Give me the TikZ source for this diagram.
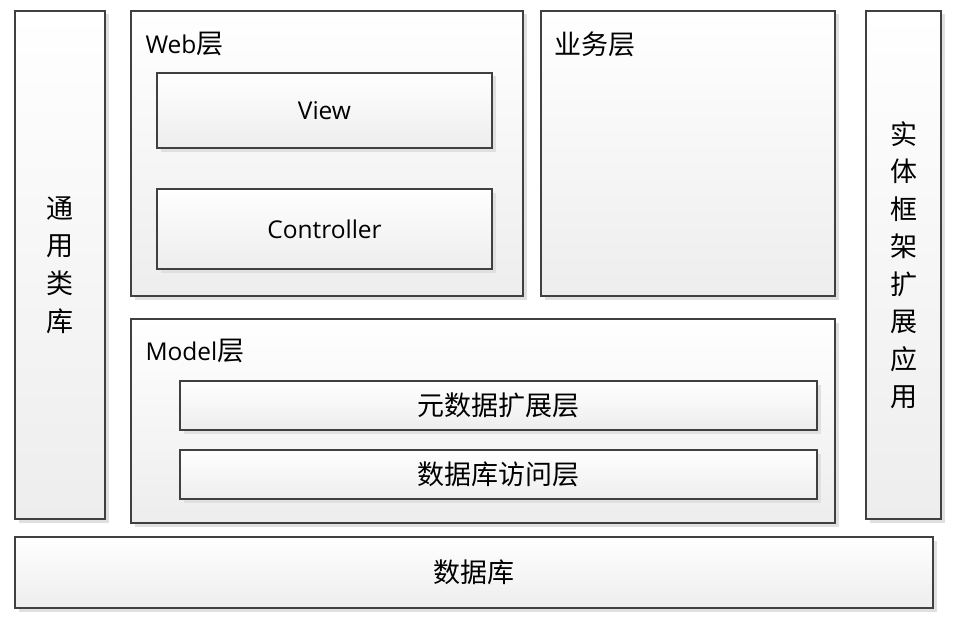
\documentclass[tikz,border=0pt]{standalone}
\usepackage{fontspec}
\setmainfont{Open Sans}
\newfontfamily\cjk{Noto Sans CJK SC}
\usetikzlibrary{shadows}

\tikzset{
  layerbox/.style={draw=black!75, line width=1.4pt, inner sep=0pt,
    top color=white, bottom color=black!7,
    drop shadow={shadow xshift=3.5pt, shadow yshift=-3.5pt, fill=black!12, opacity=1}},
  boxtext/.style={font=\fontsize{24.5}{27}\selectfont},
  zhtext/.style={font=\fontsize{27}{37.5}\selectfont\cjk, align=center}
}

\begin{document}
\begin{tikzpicture}[x=1pt, y=-1pt]
  \useasboundingbox (0,0) rectangle (956,626);

  % Columnas laterales
  \node[layerbox, minimum width=90pt, minimum height=508pt] (lib) at (60,265) {};
  \node[zhtext] (libtxt) at (lib.center) {通\\用\\类\\库};
  \node[layerbox, minimum width=75pt, minimum height=508pt] (ef) at (903.5,265) {};
  \node[zhtext] (eftxt) at (ef.center) {实\\体\\框\\架\\扩\\展\\应\\用};

  % Capa Web
  \node[layerbox, minimum width=392pt, minimum height=285pt] (web) at (327,153.5) {};
  \node[boxtext, anchor=west] (webtxt) at (142,44) {Web{\cjk\fontsize{27}{30}\selectfont 层}};
  \node[layerbox, boxtext, minimum width=335pt, minimum height=75pt] (view) at (324.5,110.5) {View};
  \node[layerbox, boxtext, minimum width=335pt, minimum height=80pt] (ctrl) at (324.5,229) {Controller};

  % Capa de negocio
  \node[layerbox, minimum width=294pt, minimum height=285pt] (biz) at (688,153.5) {};
  \node[zhtext, anchor=west] (biztxt) at (551,44) {业务层};

  % Capa Model
  \node[layerbox, minimum width=704pt, minimum height=204pt] (model) at (483,421) {};
  \node[boxtext, anchor=west] (modeltxt) at (142,351) {Model{\cjk\fontsize{27}{30}\selectfont 层}};
  \node[layerbox, zhtext, minimum width=637pt, minimum height=49pt] (meta) at (498.5,405.5) {元数据扩展层};
  \node[layerbox, zhtext, minimum width=637pt, minimum height=49pt] (dal) at (498.5,474.5) {数据库访问层};

  % Base de datos
  \node[layerbox, zhtext, minimum width=918pt, minimum height=71pt] (db) at (474,572.5) {数据库};
\end{tikzpicture}
\end{document}
